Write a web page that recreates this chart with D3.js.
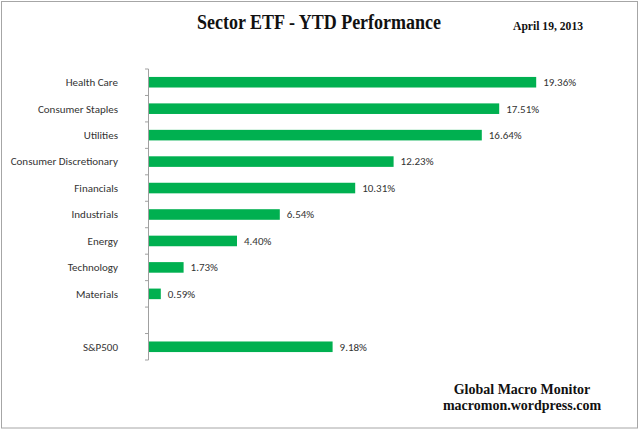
<!DOCTYPE html>
<html>
<head>
<meta charset="utf-8">
<script src="https://cdn.jsdelivr.net/npm/d3@7"></script>
<style>
	body { margin: 0; background: #fff; }
	svg { display: block; }
	.cat { font-family: Carlito, Calibri, "Open Sans", sans-serif; font-size: 11px; fill: #333; }
	.serif { font-family: "Liberation Serif", "Times New Roman", serif; font-weight: bold; fill: #111; }
</style>
</head>
<body>
<svg id="chart"></svg>
<script>
// chart data, top to bottom ("" = empty slot before the index)
const categories = ["Health Care", "Consumer Staples", "Utilities", "Consumer Discretionary", "Financials",
	"Industrials", "Energy", "Technology", "Materials", "", "S&P500"];
const ytdValues = [19.36, 17.51, 16.64, 12.23, 10.31, 6.54, 4.40, 1.73, 0.59, null, 9.18];
const titleText = "Sector ETF - YTD Performance";
const dateText = "April 19, 2013";
const footerLines = ["Global Macro Monitor", "macromon.wordpress.com"];

const width = 640,
			height = 430,
			green = "#00b050";

const svg = d3.select("#chart")
	.attr("width", width)
	.attr("height", height);

// outer frame
svg.append("rect")
	.attr("x", 1.5).attr("y", 1.5)
	.attr("width", 636).attr("height", 426.5)
	.attr("fill", "none")
	.attr("stroke", "#a6a6a6");

// the picture's title font is a bit narrow, so squeeze it
svg.append("text")
	.attr("class", "serif")
	.attr("x", 197).attr("y", 29)
	.attr("textLength", 244)
	.attr("lengthAdjust", "spacingAndGlyphs")
	.style("font-size", "20px")
	.text(titleText);

svg.append("text")
	.attr("class", "serif")
	.attr("x", 513).attr("y", 30)
	.attr("textLength", 70)
	.attr("lengthAdjust", "spacingAndGlyphs")
	.style("font-size", "13px")
	.text(dateText);

const y = d3.scaleBand()
	.domain(d3.range(categories.length))
	.range([69, 360])
	.paddingInner(0.6)
	.paddingOuter(0.3);

const x = d3.scaleLinear()
	.domain([0, 20])
	.range([149, 549]);

// category axis, ticks sit on the band edges
const step = y.step();
const axisG = svg.append("g");
axisG.append("line")
	.attr("x1", x(0) - 0.5).attr("x2", x(0) - 0.5)
	.attr("y1", 69).attr("y2", 360)
	.attr("stroke", "#a0a0a0");
axisG.selectAll("line.tick")
	.data(d3.range(categories.length + 1))
	.join("line")
	.attr("class", "tick")
	.attr("x1", x(0) - 4).attr("x2", x(0) - 0.5)
	.attr("y1", d => 69 + d * step)
	.attr("y2", d => 69 + d * step)
	.attr("stroke", "#a0a0a0");

svg.append("g")
	.selectAll("text")
	.data(categories)
	.join("text")
	.attr("class", "cat")
	.attr("x", 118)
	.attr("y", (d, i) => y(i) + y.bandwidth() / 2)
	.attr("dy", "0.35em")
	.attr("text-anchor", "end")
	.text(d => d);

const rows = ytdValues.map((v, i) => ({v, i})).filter(d => d.v !== null);

svg.append("g")
	.selectAll("rect")
	.data(rows)
	.join("rect")
	.attr("x", x(0))
	.attr("y", d => y(d.i))
	.attr("width", d => x(d.v) - x(0))
	.attr("height", y.bandwidth())
	.attr("fill", green);

svg.append("g")
	.selectAll("text")
	.data(rows)
	.join("text")
	.attr("class", "cat")
	.attr("x", d => x(d.v) + 7)
	.attr("y", d => y(d.i) + y.bandwidth() / 2)
	.attr("dy", "0.35em")
	.text(d => d.v.toFixed(2) + "%");

svg.append("g")
	.selectAll("text")
	.data(footerLines)
	.join("text")
	.attr("class", "serif")
	.attr("x", 522)
	.attr("y", (d, i) => 394 + i * 16)
	.attr("text-anchor", "middle")
	.style("font-size", "14px")
	.text(d => d);
</script>
</body>
</html>
